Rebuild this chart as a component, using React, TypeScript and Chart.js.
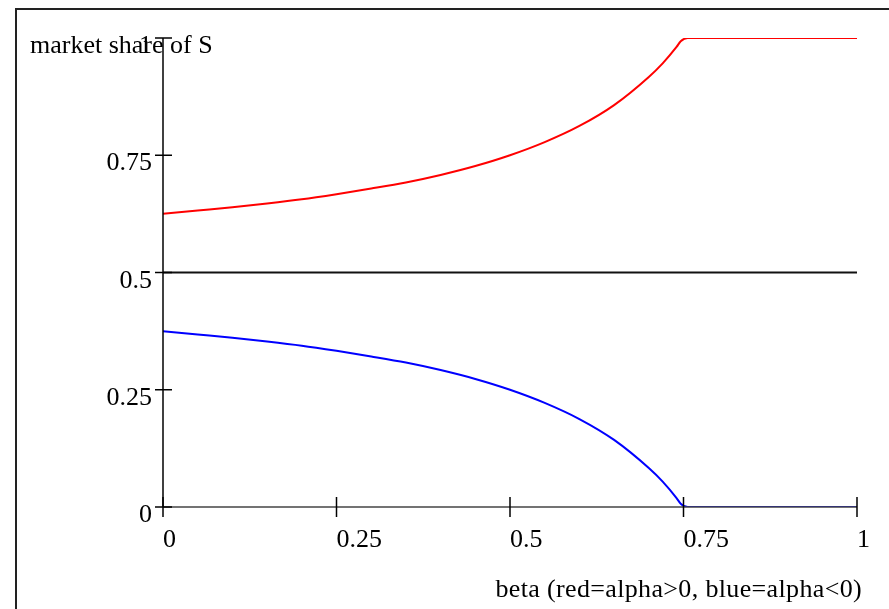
import React, { useEffect, useRef } from "react";
import { Chart, registerables } from "chart.js";

Chart.register(...registerables);

const betaValues = [0, 0.05, 0.1, 0.15, 0.2, 0.25, 0.3, 0.35, 0.4, 0.45, 0.5, 0.55, 0.6, 0.65, 0.7, 0.72, 0.74, 0.746, 0.756, 0.8, 0.9, 1];
const redShare = [0.625, 0.632, 0.639, 0.647, 0.656, 0.667, 0.679, 0.692, 0.708, 0.727, 0.75, 0.778, 0.8125, 0.857, 0.917, 0.946, 0.981, 0.993, 1, 1, 1, 1];
const blueShare = [0.375, 0.368, 0.361, 0.353, 0.344, 0.333, 0.321, 0.308, 0.292, 0.273, 0.25, 0.222, 0.1875, 0.143, 0.083, 0.054, 0.019, 0.007, 0, 0, 0, 0];
const midBeta = [0, 1];
const midShare = [0.5, 0.5];

const xTicks = [0, 0.25, 0.5, 0.75, 1];
const xTickLabels = ["0", "0.25", "0.5", "0.75", "1"];
const yTicks = [0, 0.25, 0.5, 0.75, 1];
const yTickLabels = ["0", "0.25", "0.5", "0.75", "1"];

const yTitle = "market share of S";
const xTitle = "beta (red=alpha>0, blue=alpha<0)";

const FONT = "26px 'Liberation Serif', 'Times New Roman', serif";

const toPoints = (xs: number[], ys: number[]) => xs.map((x, i) => ({ x, y: ys[i] }));

const mathcadAxes = {
  id: "mathcadAxes",
  beforeDraw(chart: any) {
    const ctx = chart.ctx;
    ctx.save();
    ctx.fillStyle = "#ffffff";
    ctx.fillRect(0, 0, chart.width, chart.height);
    ctx.strokeStyle = "#222222";
    ctx.lineWidth = 2;
    ctx.beginPath();
    ctx.moveTo(16, chart.height + 5);
    ctx.lineTo(16, 9);
    ctx.lineTo(chart.width + 5, 9);
    ctx.stroke();
    ctx.restore();
  },
  afterDatasetsDraw(chart: any) {
    const ctx = chart.ctx;
    const xs = chart.scales.x;
    const ys = chart.scales.y;
    const x0 = xs.getPixelForValue(0);
    const x1 = xs.getPixelForValue(1);
    const y0 = ys.getPixelForValue(0);
    const y1 = ys.getPixelForValue(1);
    ctx.save();
    ctx.strokeStyle = "#444444";
    ctx.lineWidth = 1.5;
    ctx.beginPath();
    ctx.moveTo(x0, y0);
    ctx.lineTo(x1, y0);
    ctx.stroke();
    ctx.strokeStyle = "#000000";
    ctx.beginPath();
    ctx.moveTo(x0, y0);
    ctx.lineTo(x0, y1);
    ctx.stroke();
    xTicks.forEach((v) => {
      const px = xs.getPixelForValue(v);
      ctx.beginPath();
      ctx.moveTo(px, y0 - 10);
      ctx.lineTo(px, y0 + 10);
      ctx.stroke();
    });
    yTicks.forEach((v) => {
      const py = ys.getPixelForValue(v);
      ctx.beginPath();
      ctx.moveTo(x0 - 8, py);
      ctx.lineTo(x0 + 9, py);
      ctx.stroke();
    });
    ctx.fillStyle = "#000000";
    ctx.font = FONT;
    ctx.textBaseline = "alphabetic";
    ctx.textAlign = "left";
    xTicks.forEach((v, i) => {
      const px = xs.getPixelForValue(v);
      ctx.fillText(xTickLabels[i], px, y0 + 40);
    });
    ctx.textAlign = "right";
    yTicks.forEach((v, i) => {
      const py = ys.getPixelForValue(v);
      ctx.fillText(yTickLabels[i], x0 - 11, py + 15);
    });
    ctx.textAlign = "left";
    ctx.fillText(yTitle, 30, 53);
    ctx.textAlign = "right";
    try { ctx.letterSpacing = "0.35px"; } catch (e) {}
    ctx.fillText(xTitle, x1 + 5, 597);
    ctx.restore();
  },
};

export default function App() {
  const ref = useRef<HTMLCanvasElement | null>(null);
  useEffect(() => {
    if (!ref.current) return;
    const chart = new Chart(ref.current, {
      type: "scatter",
      data: {
        datasets: [
          {
            data: toPoints(midBeta, midShare),
            showLine: true,
            borderColor: "#111111",
            borderWidth: 2,
            pointRadius: 0,
          },
          {
            data: toPoints(betaValues, redShare),
            showLine: true,
            borderColor: "#ff0000",
            borderWidth: 2,
            pointRadius: 0,
            cubicInterpolationMode: "monotone",
          },
          {
            data: toPoints(betaValues, blueShare),
            showLine: true,
            borderColor: "#0000ff",
            borderWidth: 2,
            pointRadius: 0,
            cubicInterpolationMode: "monotone",
          },
        ],
      },
      options: {
        animation: false,
        responsive: false,
        events: [],
        layout: { padding: { left: 163, right: 32, top: 38, bottom: 102 } },
        plugins: { legend: { display: false }, tooltip: { enabled: false }, title: { display: false } },
        scales: {
          x: { type: "linear", min: 0, max: 1, display: false },
          y: { type: "linear", min: 0, max: 1, display: false },
        },
      },
      plugins: [mathcadAxes],
    } as any);
    return () => chart.destroy();
  }, []);
  return (
    <div style={{ position: "fixed", left: 0, top: 0, width: 889, height: 609, overflow: "hidden", background: "#fff" }}>
      <canvas ref={ref} width={889} height={609} style={{ display: "block", width: 889, height: 609 }} />
    </div>
  );
}
